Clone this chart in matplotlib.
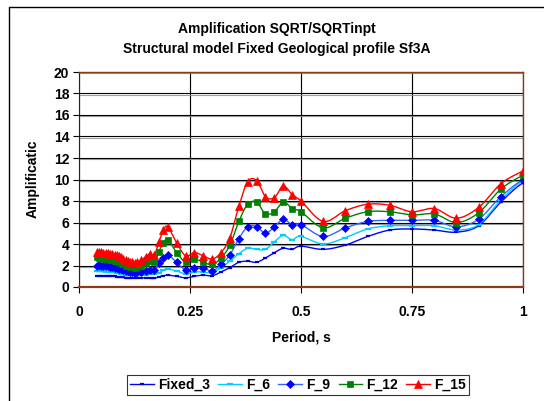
import numpy as np
import matplotlib
matplotlib.use("Agg")
import matplotlib.pyplot as plt
import matplotlib.patheffects as pe
from matplotlib.patches import Rectangle

plt.rcParams['font.family'] = ['Liberation Sans', 'DejaVu Sans']

# Period grid (s)
period = [0.040, 0.045, 0.050, 0.055, 0.060, 0.065, 0.070, 0.075, 0.080, 0.085,
          0.090, 0.095, 0.100, 0.105, 0.110, 0.115, 0.120, 0.125, 0.130,
          0.14, 0.15, 0.16, 0.17, 0.18, 0.19, 0.20,
          0.22, 0.24, 0.26, 0.28, 0.30, 0.32, 0.34, 0.36, 0.38, 0.40,
          0.42, 0.44, 0.46, 0.48, 0.50,
          0.55, 0.60, 0.65, 0.70, 0.75, 0.80, 0.85, 0.90, 0.95, 1.00, 1.05]

fixed_3 = [1.05, 1.05, 1.05, 1.05, 1.05, 1.00, 1.00, 1.00, 1.00, 0.95,
           0.95, 0.90, 0.90, 0.88, 0.85, 0.85, 0.85, 0.85, 0.85,
           0.85, 0.85, 0.80, 0.80, 0.95, 1.05, 1.10,
           1.00, 0.85, 1.00, 1.10, 1.05, 1.40, 1.80, 2.30, 2.40, 2.30,
           2.70, 3.20, 3.60, 3.50, 3.80,
           3.50, 3.90, 4.70, 5.30, 5.40, 5.30, 5.10, 5.70, 7.90, 9.70, 10.6]

f_6 = [1.45, 1.45, 1.45, 1.45, 1.40, 1.40, 1.40, 1.35, 1.35, 1.30,
       1.30, 1.25, 1.20, 1.15, 1.15, 1.10, 1.10, 1.10, 1.10,
       1.10, 1.15, 1.20, 1.20, 1.30, 1.55, 1.65,
       1.50, 1.20, 1.40, 1.40, 1.30, 1.80, 2.40, 3.10, 3.60, 3.50,
       3.50, 4.20, 4.80, 4.40, 4.70,
       4.00, 4.60, 5.40, 5.70, 5.70, 5.70, 5.30, 5.80, 8.10, 9.90, 10.8]

f_9 = [2.00, 2.05, 2.00, 2.00, 1.95, 1.95, 1.90, 1.85, 1.80, 1.80,
       1.70, 1.65, 1.55, 1.50, 1.45, 1.40, 1.35, 1.30, 1.35,
       1.40, 1.50, 1.60, 1.60, 2.20, 2.70, 3.00,
       2.30, 1.60, 1.75, 1.75, 1.50, 2.10, 3.00, 4.50, 5.60, 5.60,
       5.00, 5.60, 6.30, 5.80, 5.80,
       4.70, 5.50, 6.10, 6.20, 6.20, 6.20, 5.60, 6.30, 8.40, 10.0, 10.9]

f_12 = [2.75, 2.70, 2.70, 2.65, 2.60, 2.60, 2.55, 2.50, 2.45, 2.40,
        2.30, 2.20, 2.10, 2.00, 1.95, 1.90, 1.85, 1.80, 1.85,
        2.00, 2.20, 2.40, 2.30, 3.30, 4.10, 4.40,
        3.20, 2.30, 2.60, 2.30, 2.10, 2.70, 3.90, 6.10, 7.70, 7.90,
        6.80, 7.00, 7.90, 7.30, 7.00,
        5.50, 6.40, 7.00, 7.00, 6.70, 6.80, 6.00, 6.90, 9.10, 10.4, 11.3]

f_15 = [3.25, 3.30, 3.25, 3.20, 3.20, 3.15, 3.10, 3.05, 3.00, 2.95,
        2.85, 2.75, 2.60, 2.50, 2.40, 2.35, 2.30, 2.25, 2.30,
        2.50, 2.80, 3.10, 3.00, 4.20, 5.30, 5.60,
        4.10, 2.90, 3.20, 2.90, 2.60, 3.20, 4.60, 7.50, 9.80, 9.90,
        8.40, 8.30, 9.40, 8.60, 8.00,
        6.10, 7.10, 7.70, 7.60, 7.00, 7.30, 6.40, 7.40, 9.60, 10.8, 11.8]

labels = ['Fixed_3', 'F_6', 'F_9', 'F_12', 'F_15']
series = [fixed_3, f_6, f_9, f_12, f_15]
line_colors = ['#0000FF', '#00CCFF', '#3366FF', '#008000', '#FF0000']
marker_colors = ['#0000CC', '#00CCFF', '#0000FF', '#008000', '#FF0000']
markers = ['_', '_', 'D', 's', '^']
marker_sizes = [3.5, 4.5, 4.3, 4.3, 5.3]

x_ticks = [0, 0.25, 0.5, 0.75, 1]
x_tick_labels = ['0', '0.25', '0.5', '0.75', '1']
y_ticks = list(range(0, 21, 2))


def smooth_curve(x, y, steps=12):
    """Catmull-Rom spline through the points, like a smoothed spreadsheet line."""
    x = np.asarray(x, float)
    y = np.asarray(y, float)
    px = np.concatenate([[2 * x[0] - x[1]], x, [2 * x[-1] - x[-2]]])
    py = np.concatenate([[2 * y[0] - y[1]], y, [2 * y[-1] - y[-2]]])
    xs, ys = [], []
    t = np.linspace(0, 1, steps, endpoint=False)
    for i in range(1, len(px) - 2):
        for p, out in ((px, xs), (py, ys)):
            p0, p1, p2, p3 = p[i - 1], p[i], p[i + 1], p[i + 2]
            out.append(0.5 * ((2 * p1) + (-p0 + p2) * t
                              + (2 * p0 - 5 * p1 + 4 * p2 - p3) * t ** 2
                              + (-p0 + 3 * p1 - 3 * p2 + p3) * t ** 3))
    xs.append([x[-1]])
    ys.append([y[-1]])
    return np.concatenate(xs), np.concatenate(ys)


fig = plt.figure(figsize=(5.44, 4.01), dpi=100)
fig.patch.set_facecolor('white')
ax = fig.add_axes([79 / 544, 1 - 287 / 401, 444 / 544, 215 / 401])

for lab, vals, lc, mc, mk, ms in zip(labels, series, line_colors, marker_colors,
                                     markers, marker_sizes):
    sx, sy = smooth_curve(period, vals)
    ax.plot(sx, sy, color=lc, lw=1.0, zorder=3)
    ax.plot(period, vals, linestyle='none', marker=mk, color=mc, ms=ms,
            mew=1.6 if mk == '_' else 0.5, mec=mc, zorder=4)

ax.set_xlim(0, 1)
ax.set_ylim(0, 20)
ax.set_xticks(x_ticks)
ax.set_xticklabels(x_tick_labels)
ax.set_yticks(y_ticks)
ax.tick_params(axis='both', direction='out', length=4, width=0.8, labelsize=10)
ax.tick_params(axis='x', pad=9)
ax.tick_params(axis='y', pad=3)
for lbl in ax.get_xticklabels() + ax.get_yticklabels():
    lbl.set_fontweight('bold')

# Gridlines with a faint grey shadow
ax.grid(True, color='black', lw=0.8, zorder=1)
for gl in ax.get_xgridlines() + ax.get_ygridlines():
    gl.set_path_effects([pe.SimpleLineShadow(offset=(0, -1), shadow_color='#888888', alpha=0.8),
                         pe.Normal()])

for side in ('top', 'right', 'bottom'):
    ax.spines[side].set_color('#8B3A1A')
    ax.spines[side].set_linewidth(1.0)
ax.spines['bottom'].set_linewidth(1.6)
ax.spines['left'].set_color('#3a1a10')

ax.set_xlabel('Period, s', fontsize=10, fontweight='bold', labelpad=8)
fig.text(33 / 544, 1 - 179 / 401, 'Amplificatic', rotation=90, fontsize=10,
         fontweight='bold', ha='center', va='center')

fig.text(277 / 544, 1 - 29 / 401, 'Amplification SQRT/SQRTinpt',
         fontsize=10, fontweight='bold', ha='center', va='center')
fig.text(277 / 544, 1 - 49 / 401, 'Structural model Fixed Geological profile Sf3A',
         fontsize=10, fontweight='bold', ha='center', va='center')

handles = [plt.Line2D([], [], color=lc, lw=1.0, marker=mk, mfc=mc, mec=mc,
                      ms=ms, mew=1.6 if mk == '_' else 0.5)
           for lc, mc, mk, ms in zip(line_colors, marker_colors, markers, marker_sizes)]
leg = fig.legend(handles, labels, ncol=5, loc='center',
                 bbox_to_anchor=(298 / 544, 1 - 385 / 401),
                 prop={'size': 10, 'weight': 'bold'}, frameon=True,
                 fancybox=False, edgecolor='black', handlelength=1.7,
                 handletextpad=0.3, columnspacing=0.6, borderpad=0.25)
leg.get_frame().set_linewidth(0.8)

# Outer chart frame
fig.patches.append(Rectangle((9 / 544, -0.1), 1.2, 1 - 7 / 401 + 0.1,
                             transform=fig.transFigure, fill=False,
                             edgecolor='black', lw=1.0, zorder=0))

fig.savefig('out.png', dpi=100)
